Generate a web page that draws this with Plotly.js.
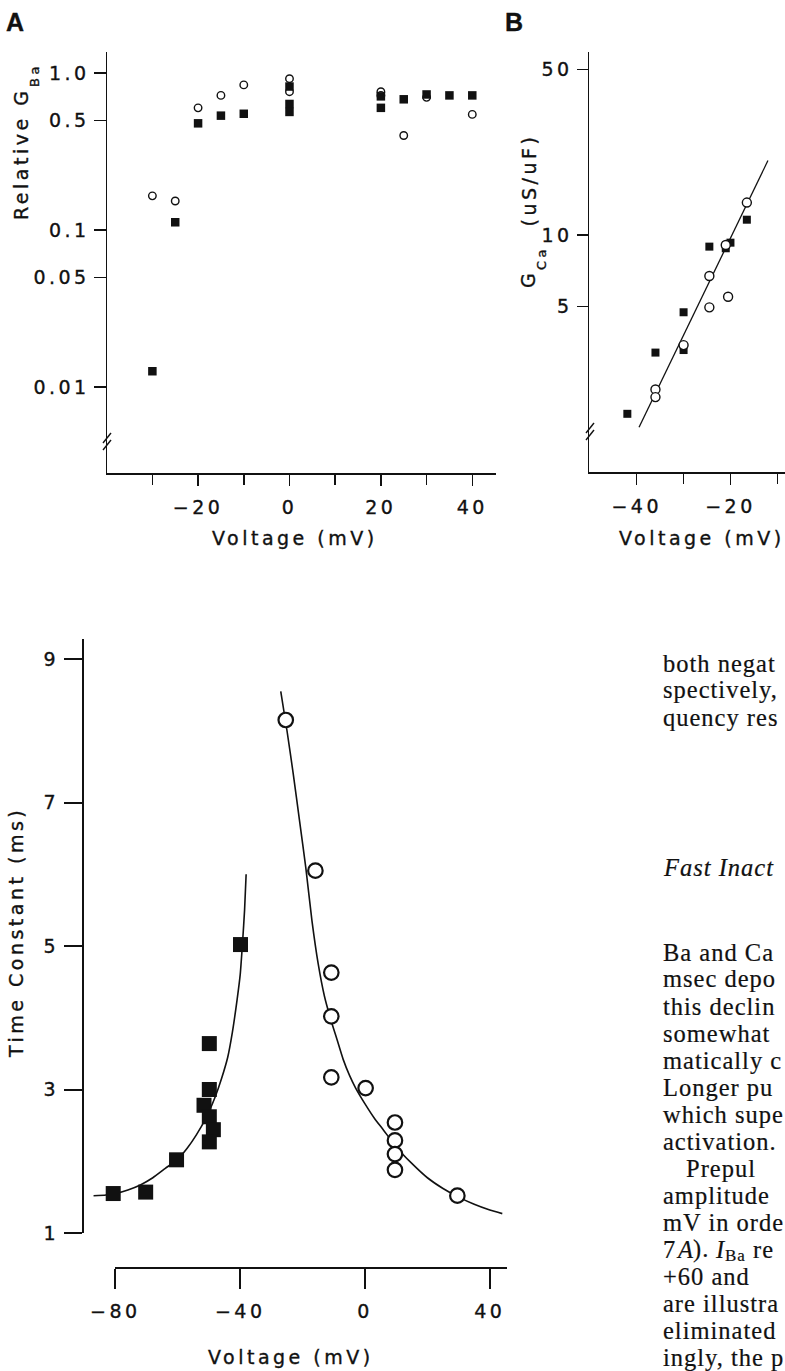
<!DOCTYPE html>
<html>
<head>
<meta charset="utf-8">
<script src="https://cdn.plot.ly/plotly-3.0.1.min.js"></script>
<style>
  html, body { margin: 0; padding: 0; background: #fff; overflow: hidden; }
  #fig { width: 785px; height: 1371px; }
  /* wide, evenly tracked figure lettering with a slightly heavy stroke */
  svg text { letter-spacing: 3.5px; stroke: #111; stroke-width: 0.35px; }
  svg text[style*="Serif"] { letter-spacing: 1px; stroke-width: 0.2px; }
</style>
</head>
<body>
<div id="fig"></div>
<script>
// ---- Panel A: relative Ba conductance (log scale) ----
const aCircV = [-30, -25, -20, -15, -10, 0, 0, 20, 20, 25, 30, 40];
const aCircG = [0.165, 0.153, 0.60, 0.72, 0.84, 0.92, 0.76, 0.76, 0.72, 0.40, 0.70, 0.545];
const aSqV   = [-30, -25, -20, -15, -10, 0, 0, 0, 20, 20, 25, 30, 35, 40];
const aSqG   = [0.0126, 0.112, 0.478, 0.535, 0.55, 0.82, 0.635, 0.565, 0.71, 0.60, 0.68, 0.73, 0.72, 0.72];
const aXTickV = [-20, 0, 20, 40];
const aXTickT = ['\u221220', '0', '20', '40'];
const aXMinorV = [-30, -10, 10, 30];
const aYTickV = [0.01, 0.05, 0.1, 0.5, 1.0];
const aYTickT = ['0.01', '0.05', '0.1', '0.5', '1.0'];

// ---- Panel B: Ca conductance (log scale) with fitted line ----
const bSqV   = [-42, -36, -30, -30, -24.5, -21, -20, -16.5];
const bSqG   = [1.76, 3.19, 4.72, 3.27, 8.93, 8.79, 9.28, 11.6];
const bCircV = [-36, -36, -30, -24.5, -24.5, -21, -20.5, -16.5];
const bCircG = [2.23, 2.07, 3.43, 6.71, 4.95, 9.07, 5.49, 13.7];
const bFitV  = [-39.5, -12];
const bFitG  = [1.545, 20.6];
const bXTickV = [-40, -20];
const bXTickT = ['\u221240', '\u221220'];
const bXMinorV = [-30, -10];
const bYTickV = [5, 10, 50];
const bYTickT = ['5', '10', '50'];

// ---- Lower panel: time constants ----
const cSqV   = [-80.7, -70.3, -60.4, -51.6, -49.9, -49.9, -49.9, -48.6, -49.9, -39.9];
const cSqT   = [1.55, 1.57, 2.02, 2.78, 3.64, 3.0, 2.62, 2.44, 2.27, 5.02];
const cCircV = [-25.4, -15.9, -10.8, -10.8, -10.8, 0.2, 9.6, 9.6, 9.6, 9.6, 29.6];
const cCircT = [8.15, 6.05, 4.63, 4.02, 3.17, 3.02, 2.54, 2.29, 2.10, 1.88, 1.52];
const cFitLeftV  = [-87, -83, -80, -76, -72, -68, -64, -60, -57, -54, -51, -48, -46, -44, -42.5, -41, -40, -39.2, -38.6, -38.1];
const cFitLeftT  = [1.52, 1.53, 1.55, 1.6, 1.67, 1.77, 1.9, 2.03, 2.18, 2.37, 2.6, 2.9, 3.15, 3.45, 3.8, 4.25, 4.6, 5.08, 5.5, 6.0];
const cFitRightV = [-27, -25, -23, -21, -19, -17, -15, -13, -11, -9, -7, -5, -3, 0, 3, 6, 10, 15, 20, 25, 30, 35, 40, 44];
const cFitRightT = [8.55, 8.0, 7.4, 6.75, 6.1, 5.35, 4.75, 4.3, 3.98, 3.7, 3.42, 3.2, 3.02, 2.8, 2.6, 2.43, 2.2, 1.97, 1.77, 1.62, 1.50, 1.40, 1.32, 1.27];
const cXTickV = [-80, -40, 0, 40];
const cXTickT = ['\u221280', '\u221240', '0', '40'];
const cYTickV = [1, 3, 5, 7, 9];

// ---- running text beside the lower panel ----
const textBlock1 = ['both negat', 'spectively,', 'quency res'];
const textHeading = 'Fast Inact';
const textBlock2 = ['Ba and Ca', 'msec depo', 'this declin', 'somewhat', 'matically c',
  'Longer pu', 'which supe', 'activation.', 'Prepul', 'amplitude', 'mV in orde',
  null, '+60 and', 'are illustra', 'eliminated', 'ingly, the p'];
// the line with italic symbols and a subscript, set piece by piece
const symbolLine = [
  { t: '7', dx: 0 }, { t: 'A', dx: 13.3, it: true }, { t: ').', dx: 29.6 },
  { t: 'I', dx: 52.4, it: true }, { t: 'Ba', dx: 61.8, sub: true }, { t: 're', dx: 90.2 }
];

// ---------------------------------------------------------------
const W = 785, H = 1371;
const px = x => x / W;
const py = y => 1 - y / H;
const ink = '#111';
const sans = { family: 'DejaVu Sans, sans-serif', size: 19, color: ink };
const sansSub = { family: 'DejaVu Sans, sans-serif', size: 13, color: ink };
const serif = { family: 'Liberation Serif, serif', size: 24.5, color: ink };
const serifIt = Object.assign({}, serif, { style: 'italic' });
const serifSub = { family: 'Liberation Serif, serif', size: 17, color: ink };
const letterFont = { family: 'Liberation Sans, sans-serif', size: 25, color: ink, weight: 'bold' };

const openCircle = (size, lw) => ({ symbol: 'circle', size: size, color: '#fff', line: { color: ink, width: lw } });
const solidSquare = size => ({ symbol: 'square', size: size, color: ink, line: { width: 0 } });

const traces = [
  // A
  { x: aCircV, y: aCircG, xaxis: 'x', yaxis: 'y', mode: 'markers', marker: openCircle(7.5, 1.4), cliponaxis: false },
  { x: aSqV, y: aSqG, xaxis: 'x', yaxis: 'y', mode: 'markers', marker: solidSquare(8.5), cliponaxis: false },
  { x: [], y: [], xaxis: 'x5', yaxis: 'y', mode: 'markers' },
  // B
  { x: bFitV, y: bFitG, xaxis: 'x2', yaxis: 'y2', mode: 'lines', line: { color: ink, width: 1.3 } },
  { x: bSqV, y: bSqG, xaxis: 'x2', yaxis: 'y2', mode: 'markers', marker: solidSquare(8), cliponaxis: false },
  { x: bCircV, y: bCircG, xaxis: 'x2', yaxis: 'y2', mode: 'markers', marker: openCircle(9, 1.4), cliponaxis: false },
  { x: [], y: [], xaxis: 'x6', yaxis: 'y2', mode: 'markers' },
  // lower panel: visible axes frame
  { x: [], y: [], xaxis: 'x3', yaxis: 'y3', mode: 'markers' },
  // lower panel: data
  { x: cFitLeftV, y: cFitLeftT, xaxis: 'x4', yaxis: 'y4', mode: 'lines', line: { color: ink, width: 1.6, shape: 'spline', smoothing: 0.6 } },
  { x: cFitRightV, y: cFitRightT, xaxis: 'x4', yaxis: 'y4', mode: 'lines', line: { color: ink, width: 1.6, shape: 'spline', smoothing: 0.6 } },
  { x: cSqV, y: cSqT, xaxis: 'x4', yaxis: 'y4', mode: 'markers', marker: solidSquare(15), cliponaxis: false },
  { x: cCircV, y: cCircT, xaxis: 'x4', yaxis: 'y4', mode: 'markers', marker: openCircle(14.5, 2.2), cliponaxis: false }
];

const axBase = {
  showgrid: false, zeroline: false, showline: true, linecolor: ink,
  ticks: 'outside', tickcolor: ink, tickfont: sans, fixedrange: true
};
// unlabeled intermediate ticks, drawn on an overlaid axis
const bareTicks = (base, anchor, range, vals) => ({
  overlaying: base, anchor: anchor, range: range, showline: false, showgrid: false, zeroline: false,
  ticks: 'outside', ticklen: 11, tickwidth: 1.5, tickcolor: ink, showticklabels: false,
  tickmode: 'array', tickvals: vals, fixedrange: true
});

const annotations = [];
const addText = (text, x, y, opts) => annotations.push(Object.assign({
  text: text, xref: 'paper', yref: 'paper', x: px(x), y: py(y),
  showarrow: false, xanchor: 'center', yanchor: 'middle', font: sans
}, opts || {}));

// panel letters
addText('A', 17, 22, { font: letterFont });
addText('B', 516, 22, { font: letterFont });
// axis titles (rotated ones carry their subscripts as separate pieces)
addText('Relative G', 21, 222, { textangle: -90, yanchor: 'bottom' });
addText('Ba', 34, 89, { textangle: -90, yanchor: 'bottom', font: sansSub });
addText('Voltage (mV)', 295, 538);
addText('G', 528, 290, { textangle: -90, yanchor: 'bottom' });
addText('Ca', 541, 272, { textangle: -90, yanchor: 'bottom', font: sansSub });
addText('(uS/uF)', 528, 229, { textangle: -90, yanchor: 'bottom' });
addText('Voltage (mV)', 702, 538);
addText('Time Constant (ms)', 16, 933, { textangle: -90 });
addText('Voltage (mV)', 291, 1357);

// running text
const lineStep = 27;
const textLeft = 661;
textBlock1.forEach((t, i) => addText(t, textLeft, 663 + i * lineStep, { xanchor: 'left', font: serif }));
addText(textHeading, textLeft, 868, { xanchor: 'left', font: serifIt });
textBlock2.forEach((t, i) => {
  const y = 952 + i * lineStep;
  if (t === null) {
    symbolLine.forEach(p => addText(p.t, textLeft + p.dx, p.sub ? y + 6 : y, {
      xanchor: 'left', font: p.sub ? serifSub : (p.it ? serifIt : serif)
    }));
  } else {
    addText(t, t === 'Prepul' ? textLeft + 23 : textLeft, y, { xanchor: 'left', font: serif });
  }
});

// axis-break marks
const shapes = [];
const brk = (x, y) => {
  [0, 7].forEach(d => shapes.push({
    type: 'line', xref: 'paper', yref: 'paper',
    x0: px(x - 4), y0: py(y + 5 + d), x1: px(x + 4), y1: py(y - 5 + d),
    line: { color: ink, width: 1.4 }
  }));
};
brk(107, 438);
brk(590, 428);

const aXRange = [-39.93, 45.19];
const bXRange = [-50.18, -8.36];

const layout = {
  width: W, height: H,
  margin: { l: 0, r: 0, t: 0, b: 0 },
  paper_bgcolor: '#fff', plot_bgcolor: 'rgba(0,0,0,0)',
  showlegend: false, font: sans,
  xaxis: Object.assign({}, axBase, {
    domain: [px(107), px(496)], range: aXRange, anchor: 'y',
    linewidth: 1.5, tickwidth: 1.5, ticklen: 11, ticklabelstandoff: 6,
    tickmode: 'array', tickvals: aXTickV, ticktext: aXTickT
  }),
  xaxis5: bareTicks('x', 'y', aXRange, aXMinorV),
  yaxis: Object.assign({}, axBase, {
    domain: [py(473), py(52)], type: 'log', range: [-2.5478, 0.1338], anchor: 'x',
    linewidth: 1.5, tickwidth: 1.5, ticklen: 12, ticklabelstandoff: 0,
    tickmode: 'array', tickvals: aYTickV, ticktext: aYTickT
  }),
  xaxis2: Object.assign({}, axBase, {
    domain: [px(589), 1], range: bXRange, anchor: 'y2',
    linewidth: 1.5, tickwidth: 1.5, ticklen: 11, ticklabelstandoff: 6,
    tickmode: 'array', tickvals: bXTickV, ticktext: bXTickT
  }),
  xaxis6: bareTicks('x2', 'y2', bXRange, bXMinorV),
  yaxis2: Object.assign({}, axBase, {
    domain: [py(472), py(52)], type: 'log', range: [0, 1.772], anchor: 'x2',
    linewidth: 1.5, tickwidth: 1.5, ticklen: 11, ticklabelstandoff: 0,
    tickmode: 'array', tickvals: bYTickV, ticktext: bYTickT
  }),
  xaxis3: Object.assign({}, axBase, {
    domain: [px(365 - 80 * 3.12), px(507)], range: [-80, 45.51], anchor: 'free', position: py(1268),
    linewidth: 2, tickwidth: 2, ticklen: 20, ticklabelstandoff: 6,
    tickmode: 'array', tickvals: cXTickV, ticktext: cXTickT
  }),
  yaxis3: Object.assign({}, axBase, {
    domain: [py(1233), py(639)], range: [1, 9.2787], anchor: 'free', position: px(83),
    linewidth: 2, tickwidth: 2, ticklen: 18, ticklabelstandoff: 1,
    tickmode: 'array', tickvals: cYTickV
  }),
  xaxis4: { domain: [px(83), px(507)], range: [-90.385, 45.51], anchor: 'y4', visible: false, fixedrange: true },
  yaxis4: { domain: [py(1268), py(639)], range: [0.5122, 9.2787], anchor: 'x4', visible: false, fixedrange: true },
  annotations: annotations,
  shapes: shapes
};

Plotly.newPlot('fig', traces, layout, { staticPlot: true, displayModeBar: false });
</script>
</body>
</html>
